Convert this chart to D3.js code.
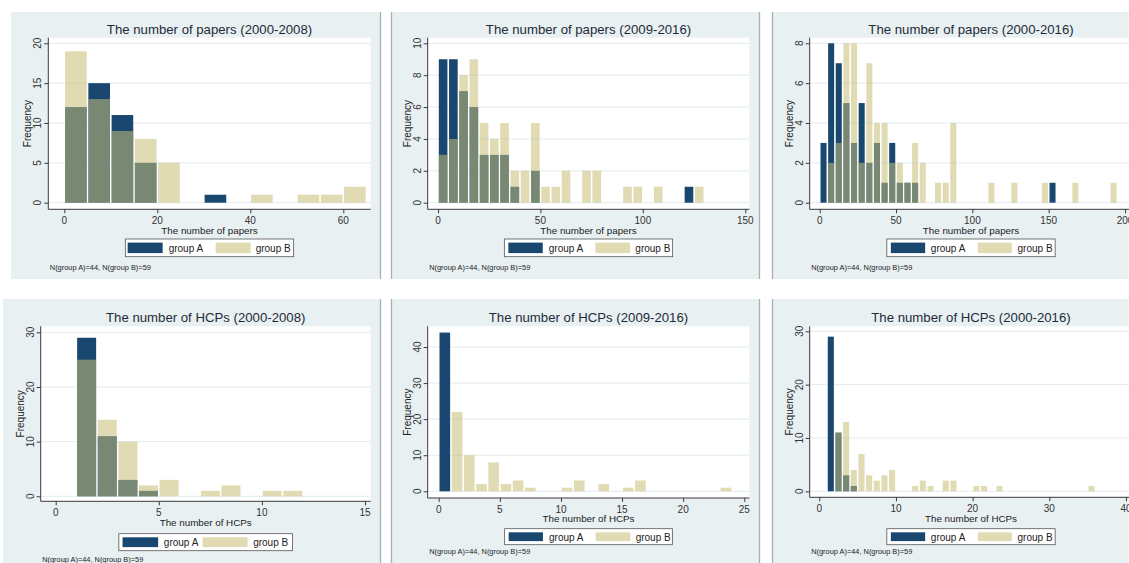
<!DOCTYPE html>
<html><head><meta charset="utf-8">
<script src="https://cdn.jsdelivr.net/npm/d3@7"></script>
<style>
body{margin:0;background:#fff;}
svg{display:block;}
text{font-family:'Liberation Sans',Arial,Helvetica,sans-serif;}
</style>
</head><body>
<svg id="chart" width="1129" height="563"></svg>
<script>
// ---------------- DATA ----------------
const groupLabels = ["group A", "group B"];
const noteText = "N(group A)=44, N(group B)=59";
const panelTitles = [
  "The number of papers (2000-2008)",
  "The number of papers (2009-2016)",
  "The number of papers (2000-2016)",
  "The number of HCPs (2000-2008)",
  "The number of HCPs (2009-2016)",
  "The number of HCPs (2000-2016)"
];
const xAxisTitles = ["The number of papers","The number of papers","The number of papers",
  "The number of HCPs","The number of HCPs","The number of HCPs"];
const yAxisTitle = "Frequency";
const binWidths = [5, 5, 5, 1, 1, 1];

// frequencies per bin (bin i covers [i*w, (i+1)*w))
const papers0008A = [12,15,11,5,0,0,1,0,0,0,0,0,0];
const papers0008B = [19,13,9,8,5,0,0,0,1,0,1,1,2];
const papers0916A = [9,9,7,6,3,3,3,1,0,2,0,0,0,0,0,0,0,0,0,0,0,0,0,0,1,0];
const papers0916B = [3,4,8,9,5,4,5,2,2,5,1,1,2,0,2,2,0,0,1,1,0,1,0,0,0,1];
const papers0016A = [3,8,7,5,3,5,2,3,1,3,1,1,1,0,0,0,0,0,0,0,0,0,0,0,0,0,0,0,0,0,1,0,0,0,0,0,0,0,0];
const papers0016B = [0,2,3,8,8,2,7,4,4,2,2,1,3,2,0,1,1,4,0,0,0,0,1,0,0,1,0,0,0,1,0,0,0,1,0,0,0,0,1];
const hcps0008A = [0,29,11,3,1,0,0,0,0,0,0,0];
const hcps0008B = [0,25,14,10,2,3,0,1,2,0,1,1];
const hcps0916A = [44,0,0,0,0,0,0,0,0,0,0,0,0,0,0,0,0,0,0,0,0,0,0,0];
const hcps0916B = [0,22,10,2,8,2,3,1,0,0,1,3,0,2,0,1,3,0,0,0,0,0,0,1];
const hcps0016A = [0,29,11,3,1,0,0,0,0,0,0,0,0,0,0,0,0,0,0,0,0,0,0,0,0,0,0,0,0,0,0,0,0,0,0,0];
const hcps0016B = [0,0,11,13,4,7,3,2,3,4,0,0,1,2,1,0,2,2,0,0,1,1,0,1,0,0,0,0,0,0,0,0,0,0,0,1];

const seriesA = [papers0008A, papers0916A, papers0016A, hcps0008A, hcps0916A, hcps0016A];
const seriesB = [papers0008B, papers0916B, papers0016B, hcps0008B, hcps0916B, hcps0016B];

const xTickValues = [[0,20,40,60],[0,50,100,150],[0,50,100,150,200],[0,5,10,15],[0,5,10,15,20,25],[0,10,20,30,40]];
const yTickValues = [[0,5,10,15,20],[0,2,4,6,8,10],[0,2,4,6,8],[0,10,20,30],[0,10,20,30,40],[0,10,20,30]];

// ---------------- LAYOUT ----------------
const colA = "#1a476f";
const colB = "rgb(198,190,117)";
const opB = 0.55;
const bgCol = "#e8f0f2";
const gridCol = "#e3ebee";
const axisCol = "#3a3a3a";
const titleCol = "#1f2b38";

const layout = [
  {bg:[11,12,380.5,279], pl:48.3, pt:37.7, pr:370.7, pb:209.3,
   xd:[0,60], xr:[64.3,343.3], yd:[0,20], yr:[202.7,43.3],
   titleY:34, xtY:224, xTitleY:233.5, leg:{y:239,h:17.7,w:168.3,ax:2.3,aw:35,atx:43.3,bx:90.3,bw:35,btx:130.3,ty:252}, noteY:269.5},
  {bg:[391.5,12,759.5,279], pl:427.7, pt:37.7, pr:749.3, pb:209.3,
   xd:[0,150], xr:[438,745.3], yd:[0,10], yr:[202.7,43.3],
   titleY:34, xtY:224, xTitleY:233.5, leg:{y:239,h:17.7,w:168.3,ax:4,aw:34.4,atx:44.4,bx:91,bw:34.7,btx:131,ty:252}, noteY:269.5},
  {bg:[772.5,12,1128.5,279], pl:809.7, pt:37.7, pr:1132.3, pb:209.3,
   xd:[0,150], xr:[819.7,1048.7], yd:[0,8], yr:[202.7,43.3],
   titleY:34, xtY:224, xTitleY:233.5, leg:{y:239,h:17.7,w:168.3,ax:4,aw:34.3,atx:44,bx:91,bw:34,btx:130.7,ty:252}, noteY:269.5},
  {bg:[3,299,380.5,566], pl:40.7, pt:326.3, pr:370.7, pb:501.3,
   xd:[0,15], xr:[55.7,365], yd:[0,30], yr:[496.3,332.3],
   titleY:321.5, xtY:516, xTitleY:526, leg:{y:533.7,h:17,w:173.7,ax:3.7,aw:35.6,atx:45,bx:83.7,bw:45,btx:134.3,ty:545.5}, noteY:561.6},
  {bg:[391.5,299,759.5,566], pl:427.7, pt:326.3, pr:749.3, pb:498,
   xd:[0,25], xr:[438.7,744.3], yd:[0,40], yr:[491.3,347],
   titleY:321.5, xtY:512.7, xTitleY:522, leg:{y:528.7,h:16,w:167.7,ax:4,aw:34.3,atx:44.4,bx:91,bw:34.7,btx:131,ty:540.5}, noteY:553.5},
  {bg:[772.5,299,1128.5,566], pl:809.7, pt:326.3, pr:1132.3, pb:497.3,
   xd:[0,30], xr:[819.3,1049.3], yd:[0,30], yr:[491.3,331.3],
   titleY:321.5, xtY:512, xTitleY:521.5, leg:{y:528.7,h:16,w:168.3,ax:4,aw:34.3,atx:44,bx:91,bw:34,btx:130.7,ty:540.5}, noteY:553.5}
];

const svg = d3.select("#chart");

// panel backgrounds
layout.forEach(L => {
  svg.append("rect").attr("x",L.bg[0]).attr("y",L.bg[1])
    .attr("width",L.bg[2]-L.bg[0]).attr("height",L.bg[3]-L.bg[1])
    .attr("fill",bgCol);
});
// separating vertical edges
[380.5, 391.5, 759.5, 772.5].forEach(x => {
  [[12,279],[299,563]].forEach(([y0,y1]) => {
    svg.append("line").attr("x1",x).attr("x2",x).attr("y1",y0).attr("y2",y1)
      .attr("stroke","#a8aeb2").attr("stroke-width",1.3);
  });
});

layout.forEach((L, i) => {
  const g = svg.append("g");
  const x = d3.scaleLinear().domain(L.xd).range(L.xr);
  const y = d3.scaleLinear().domain(L.yd).range(L.yr);
  const w = binWidths[i];
  const cx = (L.pl + L.pr) / 2;

  // plot region
  g.append("rect").attr("x",L.pl).attr("y",L.pt).attr("width",L.pr-L.pl).attr("height",L.pb-L.pt).attr("fill","#fff");

  // grid
  g.selectAll(".grid").data(yTickValues[i]).join("line")
    .attr("x1",L.pl).attr("x2",L.pr).attr("y1",d=>y(d)).attr("y2",d=>y(d))
    .attr("stroke",gridCol).attr("stroke-width",1);

  // bars
  const binsA = seriesA[i].map((v,k)=>({x0:k*w, x1:(k+1)*w, v})).filter(d=>d.v>0);
  const binsB = seriesB[i].map((v,k)=>({x0:k*w, x1:(k+1)*w, v})).filter(d=>d.v>0);
  g.selectAll(".ba").data(binsA).join("rect")
    .attr("x",d=>x(d.x0)+0.8).attr("width",d=>x(d.x1)-x(d.x0)-1.6)
    .attr("y",d=>y(d.v)).attr("height",d=>y(0)-y(d.v))
    .attr("fill",colA);
  g.selectAll(".bb").data(binsB).join("rect")
    .attr("x",d=>x(d.x0)+0.8).attr("width",d=>x(d.x1)-x(d.x0)-1.6)
    .attr("y",d=>y(d.v)).attr("height",d=>y(0)-y(d.v))
    .attr("fill",colB).attr("fill-opacity",opB);

  // axes
  const yAx = g.append("g").attr("transform",`translate(${L.pl},0)`)
    .call(d3.axisLeft(y).tickValues(yTickValues[i]).tickSize(4).tickFormat(""));
  yAx.select(".domain").attr("d",`M0,${L.pt}V${L.pb}`).attr("stroke",axisCol);
  yAx.selectAll(".tick line").attr("stroke",axisCol);
  g.selectAll(".ylab").data(yTickValues[i]).join("text")
    .attr("transform",d=>`translate(${L.pl-7},${y(d)}) rotate(-90)`)
    .attr("text-anchor","middle").attr("font-size",10).attr("fill","#333")
    .text(d=>d);

  const xAx = g.append("g").attr("transform",`translate(0,${L.pb})`)
    .call(d3.axisBottom(x).tickValues(xTickValues[i]).tickSize(4).tickFormat(""));
  xAx.select(".domain").attr("d",`M${L.pl},0H${L.pr}`).attr("stroke",axisCol);
  xAx.selectAll(".tick line").attr("stroke",axisCol);
  g.selectAll(".xlab").data(xTickValues[i]).join("text")
    .attr("x",d=>x(d)).attr("y",L.xtY)
    .attr("text-anchor","middle").attr("font-size",10).attr("fill","#333")
    .text(d=>d);

  // titles
  g.append("text").attr("x",cx).attr("y",L.titleY).attr("text-anchor","middle")
    .attr("font-size",13.2).attr("fill",titleCol).text(panelTitles[i]);
  g.append("text").attr("x",cx).attr("y",L.xTitleY).attr("text-anchor","middle")
    .attr("font-size",9.8).attr("fill","#222").text(xAxisTitles[i]);
  g.append("text").attr("transform",`translate(${L.pl-17},${(L.pt+L.pb)/2}) rotate(-90)`)
    .attr("text-anchor","middle").attr("font-size",10).attr("fill","#222").text(yAxisTitle);

  // legend
  const lg = L.leg;
  const lx = cx - lg.w/2;
  g.append("rect").attr("x",lx).attr("y",lg.y).attr("width",lg.w).attr("height",lg.h)
    .attr("fill","#fff").attr("stroke","#555").attr("stroke-width",0.8);
  const sy = lg.y + 3.6, sh = lg.h - 7.2;
  g.append("rect").attr("x",lx+lg.ax).attr("y",sy).attr("width",lg.aw).attr("height",sh).attr("fill",colA);
  g.append("rect").attr("x",lx+lg.bx).attr("y",sy).attr("width",lg.bw).attr("height",sh).attr("fill",colB).attr("fill-opacity",opB);
  g.append("text").attr("x",lx+lg.atx).attr("y",lg.ty).attr("font-size",10).attr("fill","#222").text(groupLabels[0]);
  g.append("text").attr("x",lx+lg.btx).attr("y",lg.ty).attr("font-size",10).attr("fill","#222").text(groupLabels[1]);

  // note
  g.append("text").attr("x",L.pl+1.5).attr("y",L.noteY).attr("font-size",7.4).attr("fill","#222").text(noteText);
});
</script>
</body></html>
